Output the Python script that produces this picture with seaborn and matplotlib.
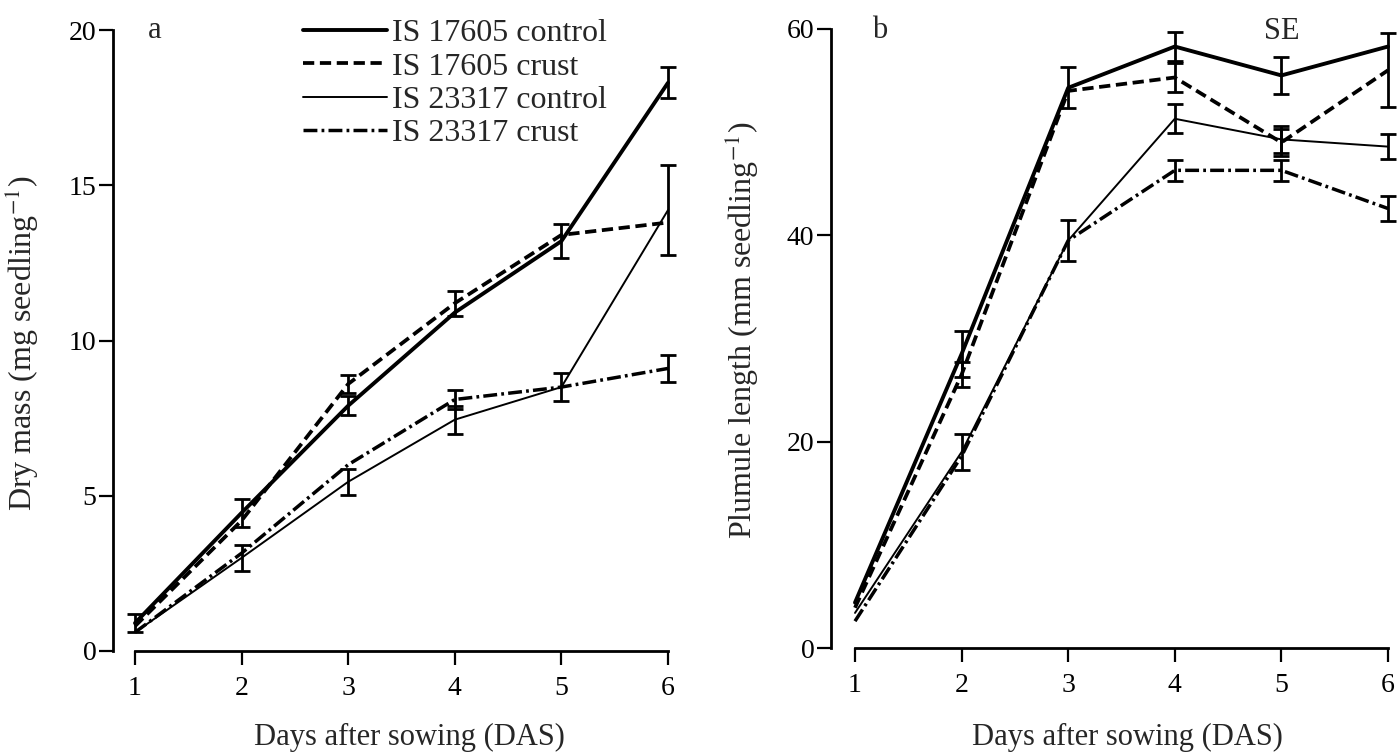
import numpy as np
import pandas as pd
import seaborn as sns
import matplotlib.pyplot as plt

# x values and series names
days = [1, 2, 3, 4, 5, 6]
series_names = ["IS 17605 control", "IS 17605 crust", "IS 23317 control", "IS 23317 crust"]

# panel a: dry mass (mg seedling-1), means and SE
dry_17605_control = [0.9, 4.45, 7.9, 10.9, 13.2, 18.3]
dry_17605_crust = [0.8, 4.2, 8.6, 11.2, 13.4, 13.8]
dry_23317_control = [0.6, 3.0, 5.45, 7.45, 8.5, 14.2]
dry_23317_crust = [0.6, 3.15, 6.0, 8.1, 8.5, 9.1]
dry_se_17605_control = [0.3, 0.45, 0.3, 0, 0.55, 0.5]
dry_se_17605_crust = [0, 0, 0.3, 0.4, 0, 0]
dry_se_23317_control = [0, 0.42, 0.42, 0.45, 0.45, 1.45]
dry_se_23317_crust = [0, 0, 0, 0.3, 0, 0.43]

# panel b: plumule length (mm seedling-1)
plu_17605_control = [4.4, 28.5, 54.3, 58.3, 55.5, 58.3]
plu_17605_crust = [3.9, 26.5, 54.0, 55.3, 49.0, 56.0]
plu_23317_control = [3.4, 19.0, 39.5, 51.3, 49.3, 48.6]
plu_23317_crust = [2.6, 18.6, 39.5, 46.3, 46.3, 42.6]
plu_se_17605_control = [0, 2.2, 2.0, 1.4, 1.8, 0]
plu_se_17605_crust = [0, 1.2, 0, 1.4, 1.3, 3.6]
plu_se_23317_control = [0, 1.7, 2.0, 1.4, 1.3, 1.2]
plu_se_23317_crust = [0, 0, 0, 1.0, 1.0, 1.2]

dry_ticks = [0, 5, 10, 15, 20]
plu_ticks = [0, 20, 40, 60]

line_styles = {
    "IS 17605 control": dict(lw=2.8, ls="-"),
    "IS 17605 crust": dict(lw=2.7, ls=(0, (3.0, 1.5))),
    "IS 23317 control": dict(lw=1.4, ls="-"),
    "IS 23317 crust": dict(lw=2.5, ls=(0, (4.0, 1.2, 0.8, 1.2))),
}

sns.set_theme(style="ticks")
plt.rcParams["font.family"] = ["Liberation Serif", "DejaVu Serif"]
plt.rcParams["mathtext.fontset"] = "stix"

W, H = 1400, 754
fig = plt.figure(figsize=(14, 7.54), dpi=100)


def draw_panel(ax, values, errors):
    for name, vals, errs in zip(series_names, values, errors):
        st = line_styles[name]
        df = pd.DataFrame({"day": days, "value": vals, "se": errs})
        sns.lineplot(data=df, x="day", y="value", ax=ax, color="black",
                     linewidth=st["lw"], linestyle=st["ls"], label=name,
                     legend=False, clip_on=False)
        sub = df[df["se"] > 0]
        ax.errorbar(sub["day"], sub["value"], yerr=sub["se"], fmt="none",
                    ecolor="black", elinewidth=2.0, capsize=6, capthick=2.0,
                    clip_on=False)


def style_axes(ax, ticks, ylim, xlim):
    ax.set_xlim(*xlim)
    ax.set_ylim(*ylim)
    ax.set_xticks(days)
    ax.set_yticks(ticks)
    ax.set_xlabel("")
    ax.set_ylabel("")
    sns.despine(ax=ax)
    ax.spines["left"].set_bounds(ticks[0], ticks[-1])
    ax.spines["bottom"].set_bounds(1, 6)
    for s in ["left", "bottom"]:
        ax.spines[s].set_linewidth(2.0)
        ax.spines[s].set_color("black")
    ax.tick_params(axis="both", direction="out", length=10, width=1.6,
                   colors="black", labelsize=20)
    ax.tick_params(axis="y", pad=2)
    ax.tick_params(axis="x", pad=8)
    ax.set_facecolor("white")


# panel a
ax_a = fig.add_axes([113 / W, 1 - 651 / H, (672 - 113) / W, (651 - 30) / H])
draw_panel(ax_a,
           [dry_17605_control, dry_17605_crust, dry_23317_control, dry_23317_crust],
           [dry_se_17605_control, dry_se_17605_crust, dry_se_23317_control, dry_se_23317_crust])
style_axes(ax_a, dry_ticks, (0.16, 20), (1 - 22 / 106.6, 6 + 4 / 106.6))
ax_a.text(155 / W, 1 - 30 / H, "a", transform=fig.transFigure, fontsize=22,
          ha="center", va="center")

handles, labels = ax_a.get_legend_handles_labels()
ax_a.legend(handles, labels, loc="upper left",
            bbox_to_anchor=(303 / W, 1 - 19 / H), bbox_transform=fig.transFigure,
            frameon=False, fontsize=23, handlelength=2.63, handletextpad=0.15,
            labelspacing=0.12, borderpad=0, borderaxespad=0)

# panel b
ax_b = fig.add_axes([831 / W, 1 - 648 / H, (1395 - 831) / W, (648 - 29) / H])
draw_panel(ax_b,
           [plu_17605_control, plu_17605_crust, plu_23317_control, plu_23317_crust],
           [plu_se_17605_control, plu_se_17605_crust, plu_se_23317_control, plu_se_23317_crust])
style_axes(ax_b, plu_ticks, (0.385, 60), (1 - 24 / 106.6, 6 + 7 / 106.6))
ax_b.text(880 / W, 1 - 30 / H, "b", transform=fig.transFigure, fontsize=22,
          ha="center", va="center")
ax_b.text(5, 59.8, "SE", fontsize=22, ha="center", va="center")

# axis titles
fig.text(22 / W, 1 - 343 / H, r"Dry mass (mg seedling$^{-1}$)", rotation=90,
         fontsize=23, ha="center", va="center")
fig.text(742 / W, 1 - 330 / H, r"Plumule length (mm seedling$^{-1}$)", rotation=90,
         fontsize=23, ha="center", va="center")
fig.text(409 / W, 1 - 737 / H, "Days after sowing (DAS)", fontsize=22,
         ha="center", va="center")
fig.text(1127 / W, 1 - 737 / H, "Days after sowing (DAS)", fontsize=22,
         ha="center", va="center")

fig.savefig("out.png", dpi=100, facecolor="white")
